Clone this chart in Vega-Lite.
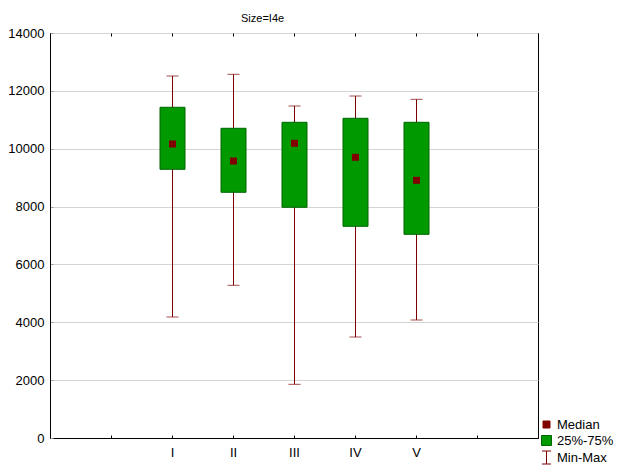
{
  "$schema": "https://vega.github.io/schema/vega-lite/v6.json",
  "width": 488,
  "height": 405,
  "autosize": {"type": "none"},
  "padding": {"left": 50, "top": 33, "right": 86, "bottom": 30},
  "background": "#ffffff",
  "title": {"text": "Size=I4e", "fontSize": 11, "fontWeight": "normal", "font": "Liberation Sans", "color": "#000000", "offset": 3, "anchor": "start", "dx": 191, "frame": "group"},
  "config": {
    "view": {"stroke": "#000000", "strokeWidth": 1},
    "font": "Liberation Sans",
    "axis": {"labelFont": "Liberation Sans", "labelFontSize": 13, "labelColor": "#000000", "domainColor": "#000000", "titleFontSize": 12}
  },
  "datasets": {
    "boxes": [
      {"group": "I", "min": 4183, "q1": 9288, "median": 10163, "q3": 11432, "max": 12514},
      {"group": "II", "min": 5278, "q1": 8493, "median": 9575, "q3": 10706, "max": 12572},
      {"group": "III", "min": 1856, "q1": 7975, "median": 10187, "q3": 10913, "max": 11477},
      {"group": "IV", "min": 3491, "q1": 7318, "median": 9703, "q3": 11051, "max": 11822},
      {"group": "V", "min": 4079, "q1": 7041, "median": 8908, "q3": 10913, "max": 11708}
    ],
    "legend": [
      {"item": "Median"},
      {"item": "25%-75%"},
      {"item": "Min-Max"}
    ]
  },
  "layer": [
    {
      "data": {"name": "boxes"},
      "mark": {"type": "rule", "color": "#7a0000", "strokeWidth": 1, "xOffset": 0.5},
      "encoding": {
        "x": {"field": "group", "type": "nominal", "scale": {"type": "point", "domain": ["_a", "_b", "I", "II", "III", "IV", "V", "_c", "_d"], "padding": 0},
          "axis": {"orient": "bottom", "title": null, "labelAngle": 0, "tickSize": -3, "tickColor": "#000000", "labelPadding": 11, "labelExpr": "indexof(datum.value, '_') == 0 ? '' : datum.value", "grid": false, "domain": true}},
        "y": {"field": "min", "type": "quantitative", "scale": {"domain": [0, 14000], "nice": false}, "title": null,
          "axis": {"values": [0, 2000, 4000, 6000, 8000, 10000, 12000, 14000], "format": "d", "grid": true, "gridColor": "#d4d4d4", "tickSize": -3, "tickColor": "#a0a0a0", "labelPadding": 9, "title": null}},
        "y2": {"field": "max"}
      }
    },
    {
      "data": {"name": "boxes"},
      "mark": {"type": "tick", "orient": "horizontal", "color": "#7a0000", "size": 12, "thickness": 1, "xOffset": 0.5},
      "encoding": {
        "x": {"field": "group", "type": "nominal", "axis": {"orient": "top", "title": null, "labels": false, "tickSize": -3, "tickColor": "#000000", "grid": false, "domain": false}},
        "y": {"field": "max", "type": "quantitative", "title": null}
      }
    },
    {
      "data": {"name": "boxes"},
      "mark": {"type": "tick", "orient": "horizontal", "color": "#7a0000", "size": 12, "thickness": 1, "xOffset": 0.5},
      "encoding": {
        "x": {"field": "group", "type": "nominal", "axis": null},
        "y": {"field": "min", "type": "quantitative", "title": null}
      }
    },
    {
      "data": {"name": "boxes"},
      "mark": {"type": "bar", "width": 25, "fill": "#009900", "stroke": "#006400", "strokeWidth": 1, "xOffset": 0.5},
      "encoding": {
        "x": {"field": "group", "type": "nominal", "axis": null},
        "y": {"field": "q1", "type": "quantitative", "title": null},
        "y2": {"field": "q3"}
      }
    },
    {
      "data": {"name": "boxes"},
      "mark": {"type": "square", "size": 49, "color": "#800000", "opacity": 1, "xOffset": 0.5},
      "encoding": {
        "x": {"field": "group", "type": "nominal", "axis": null},
        "y": {"field": "median", "type": "quantitative", "title": null}
      }
    },
    {
      "data": {"name": "legend"},
      "mark": {"type": "point", "clip": true, "size": 100, "strokeWidth": 1, "opacity": 1},
      "encoding": {
        "x": {"datum": "I", "type": "nominal", "axis": null},
        "y": {"datum": -5000, "type": "quantitative", "title": null},
        "shape": {"field": "item", "type": "nominal", "scale": {"domain": ["Median", "25%-75%", "Min-Max"], "range": ["M-0.7,-0.7H0.7V0.7H-0.7Z", "M-1,-1H1V1H-1Z", "M-0.9,-1.3H0.9M0,-1.3V1.3M-0.9,1.3H0.9"]},
          "legend": {"title": null, "orient": "none", "legendX": 490, "legendY": 385, "labelFontSize": 13, "labelFont": "Liberation Sans", "labelColor": "#000000", "symbolSize": 100, "rowPadding": 1, "labelOffset": 4, "symbolStrokeWidth": 1}},
        "fill": {"field": "item", "type": "nominal", "scale": {"domain": ["Median", "25%-75%", "Min-Max"], "range": ["#800000", "#009900", "transparent"]},
          "legend": {"title": null, "orient": "none", "legendX": 490, "legendY": 385, "labelFontSize": 13, "labelFont": "Liberation Sans", "labelColor": "#000000", "symbolSize": 100, "rowPadding": 1, "labelOffset": 4, "symbolStrokeWidth": 1}},
        "stroke": {"field": "item", "type": "nominal", "scale": {"domain": ["Median", "25%-75%", "Min-Max"], "range": ["#800000", "#006400", "#800000"]},
          "legend": {"title": null, "orient": "none", "legendX": 490, "legendY": 385, "labelFontSize": 13, "labelFont": "Liberation Sans", "labelColor": "#000000", "symbolSize": 100, "rowPadding": 1, "labelOffset": 4, "symbolStrokeWidth": 1}}
      }
    }
  ],
  "resolve": {"axis": {"x": "independent"}}
}
